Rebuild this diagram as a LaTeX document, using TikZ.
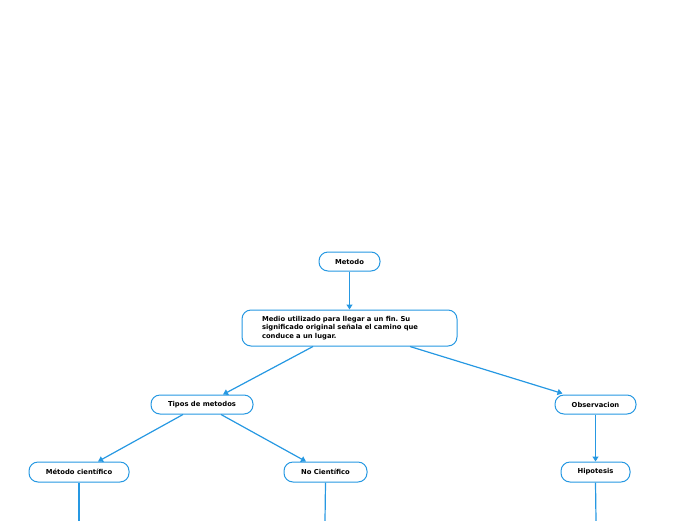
\documentclass[tikz,border=0pt]{standalone}
\usepackage{fontspec}
\setmainfont{DejaVu Sans}
\usetikzlibrary{arrows.meta,calc}
\frenchspacing
\definecolor{lineblue}{RGB}{38,152,226}
\tikzset{
  box/.style={draw=lineblue, line width=1pt, rounded corners=9pt, fill=white,
    minimum height=19pt, inner sep=0pt, align=center,
    font=\fontsize{6.8}{8.2}\selectfont\bfseries},
  conn/.style={draw=lineblue, line width=1.2pt, -{Triangle[width=6pt,length=5pt]}},
  plain/.style={draw=lineblue, line width=1.2pt}
}
\begin{document}
\begin{tikzpicture}[x=1pt,y=-1pt]
\useasboundingbox (0,0) rectangle (696,520);
\node[box, minimum width=61pt] (metodo) at (349.5,261.5) {Metodo};
\node[box, minimum width=215pt, minimum height=36pt, text width=175pt, align=left, inner xsep=20pt] (medio) at (349.5,328) {Medio utilizado para llegar a un fin. Su\\significado original señala el camino que\\conduce a un lugar.};
\node[box, minimum width=102pt] (tipos) at (202,404.5) {Tipos de metodos};
\node[box, minimum width=81pt] (obs) at (595.5,404.5) {Observacion};
\node[box, minimum width=100pt, minimum height=20pt] (cient) at (79,472) {Método científico};
\node[box, minimum width=83pt, minimum height=20pt] (nocient) at (325.5,472) {No Científico};
\node[box, minimum width=69pt, minimum height=20pt] (hipo) at (595.5,472) {Hipotesis};
\coordinate (e1) at (79,521);
\coordinate (e2) at (325,521);
\coordinate (e3) at (596,521);
\draw[conn] (metodo.south) -- (medio.north);
\draw[conn] ([xshift=-36.5pt]medio.south) -- ([xshift=21pt]tipos.north);
\draw[conn] ([xshift=60.5pt]medio.south) -- ([xshift=-33pt,yshift=1pt]obs.north);
\draw[conn] ([xshift=-19pt]tipos.south) -- ([xshift=19pt]cient.north);
\draw[conn] ([xshift=19pt]tipos.south) -- ([xshift=-19.5pt]nocient.north);
\draw[conn] (obs.south) -- (hipo.north);
\draw[plain] (cient.south) -- (e1);
\draw[plain] (nocient.south) -- (e2);
\draw[plain] (hipo.south) -- (e3);
\end{tikzpicture}
\end{document}
